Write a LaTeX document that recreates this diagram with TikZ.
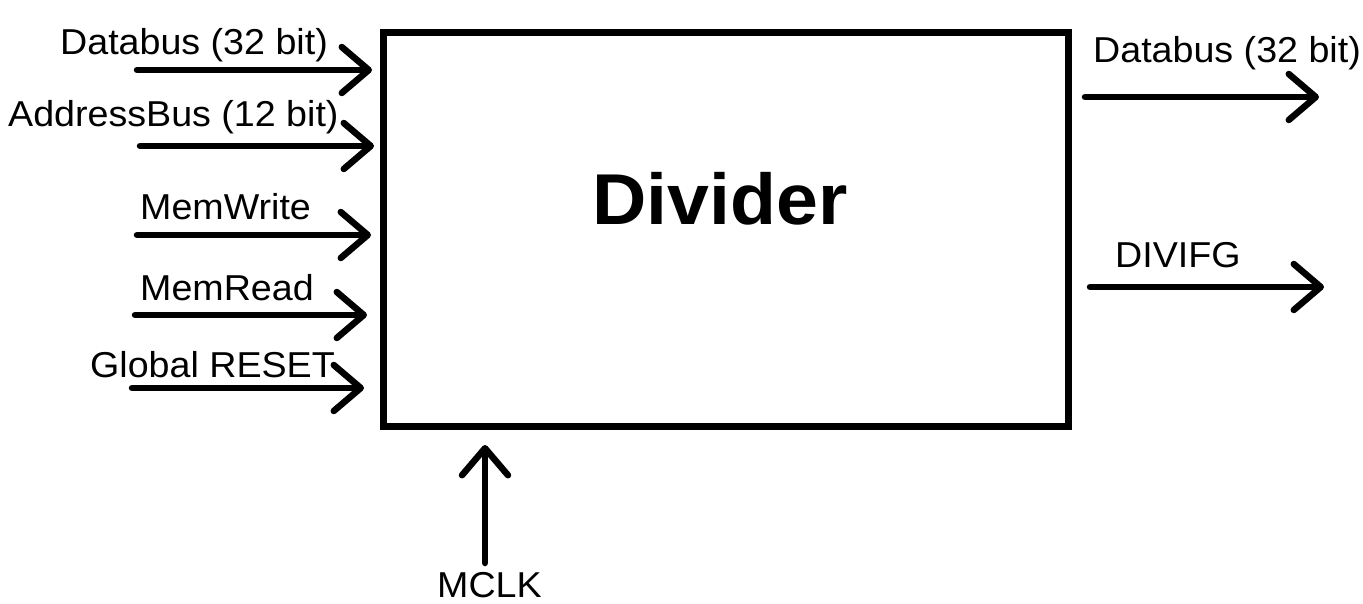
\documentclass[tikz,border=0pt]{standalone}
\usepackage{fontspec}
\setmainfont{Liberation Sans}
\usetikzlibrary{arrows.meta}
\newcommand{\wid}[1]{\scalebox{1.045}[1]{#1}}
\tikzset{
  sig/.style={line width=6.5pt, line cap=round, -{Straight Barb[length=27pt,width=46pt,round]}},
  lbl/.style={anchor=base west, inner sep=0pt, font=\fontsize{36}{42}\selectfont},
  blk/.style={draw, line width=7pt, minimum width=685pt, minimum height=393pt, inner sep=0pt}
}
\begin{document}
\begin{tikzpicture}[x=1pt,y=-1pt]
\useasboundingbox (0,0) rectangle (1363,604);
\node[blk] (box) at (725.5,229.5) {};
\node[anchor=base west, inner sep=0pt, font=\bfseries\fontsize{72}{80}\selectfont] (title) at (592,225) {\wid{Divider}};
% inputs
\coordinate (i1s) at (137,70);  \coordinate (i1e) at (372,70);
\coordinate (i2s) at (140,146); \coordinate (i2e) at (374,146);
\coordinate (i3s) at (137,235); \coordinate (i3e) at (371,235);
\coordinate (i4s) at (135,315); \coordinate (i4e) at (367,315);
\coordinate (i5s) at (132,388); \coordinate (i5e) at (364,388);
\draw[sig] (i1s) -- (i1e);
\draw[sig] (i2s) -- (i2e);
\draw[sig] (i3s) -- (i3e);
\draw[sig] (i4s) -- (i4e);
\draw[sig] (i5s) -- (i5e);
\node[lbl] (l1) at (60,55) {\wid{Databus (32 bit)}};
\node[lbl] (l2) at (8,127) {\wid{AddressBus (12 bit)}};
\node[lbl] (l3) at (140,220) {\wid{MemWrite}};
\node[lbl] (l4) at (140,300) {\wid{MemRead}};
\node[lbl] (l5) at (90,377) {\wid{Global RESET}};
% outputs
\coordinate (o1s) at (1085,97);  \coordinate (o1e) at (1319,97);
\coordinate (o2s) at (1090,287); \coordinate (o2e) at (1324,287);
\draw[sig] (o1s) -- (o1e);
\draw[sig] (o2s) -- (o2e);
\node[lbl] (r1) at (1093,63) {\wid{Databus (32 bit)}};
\node[lbl] (r2) at (1115,268) {\wid{DIVIFG}};
% clock
\coordinate (cs) at (485,563); \coordinate (ce) at (485,445);
\draw[sig] (cs) -- (ce);
\node[lbl] (c1) at (437,597) {\wid{MCLK}};
\end{tikzpicture}
\end{document}
